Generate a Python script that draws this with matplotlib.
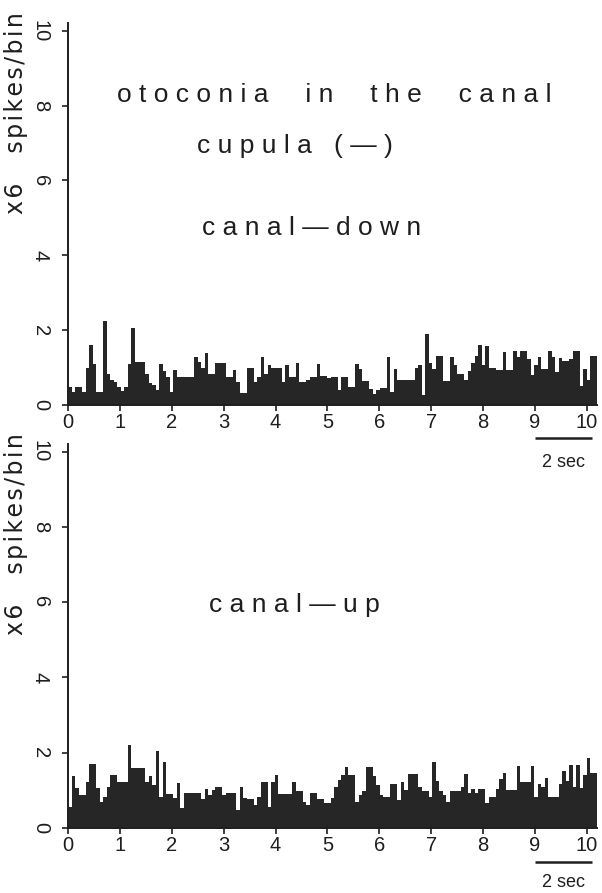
import numpy as np
import matplotlib.pyplot as plt

# spikes per bin (x6), 151 bins over ~10.2 s
bin_width = 10.2 / 151

canal_down = [
    0.49, 0.36, 0.47, 0.47, 0.36, 0.98, 1.6, 1.1, 0.36, 0.36,
    2.25, 0.83, 0.68, 0.62, 0.49, 0.37, 0.47, 1.1, 2.06, 1.14,
    1.14, 1.14, 0.84, 0.58, 0.53, 0.4, 1.1, 0.9, 0.75, 0.36,
    0.93, 0.74, 0.74, 0.74, 0.74, 0.74, 1.29, 1.16, 0.98, 1.4,
    0.84, 0.84, 1.11, 1.11, 1.11, 0.75, 0.75, 0.93, 0.62, 0.33,
    0.33, 0.98, 0.98, 0.62, 0.75, 1.29, 0.83, 1.08, 0.98, 0.98,
    0.98, 0.62, 1.08, 0.75, 0.75, 1.11, 0.62, 0.62, 0.68, 0.75,
    0.75, 1.09, 0.77, 0.77, 0.71, 0.74, 0.74, 0.4, 0.74, 0.74,
    0.47, 0.47, 1.09, 0.95, 0.65, 0.65, 0.42, 0.29, 0.4, 0.45,
    0.45, 1.29, 0.36, 0.95, 0.68, 0.68, 0.68, 0.68, 0.68, 0.98,
    1.07, 0.27, 1.89, 1.11, 0.95, 1.31, 1.31, 0.65, 0.65, 1.29,
    1.07, 0.82, 0.82, 0.67, 0.91, 1.11, 1.31, 1.6, 1.07, 1.57,
    1.0, 1.0, 0.93, 0.93, 1.42, 0.93, 0.93, 1.45, 1.29, 1.45,
    1.45, 1.24, 0.8, 1.08, 1.29, 0.95, 0.95, 1.45, 1.29, 0.89,
    1.26, 1.18, 1.18, 1.22, 1.45, 1.45, 0.51, 0.95, 0.68, 1.31,
    1.31,
]

canal_up = [
    0.57, 1.39, 1.05, 0.88, 0.88, 1.21, 1.7, 1.7, 1.05, 0.7,
    0.82, 1.08, 1.41, 1.41, 1.23, 1.23, 1.23, 2.2, 1.59, 1.59,
    1.59, 1.59, 1.23, 1.39, 1.14, 2.05, 0.83, 1.76, 0.9, 0.9,
    0.79, 1.19, 0.52, 0.94, 0.94, 0.94, 0.94, 0.94, 0.76, 1.03,
    0.88, 1.01, 1.08, 1.08, 0.88, 0.92, 0.92, 0.92, 0.48, 1.1,
    0.79, 0.76, 0.76, 0.61, 0.82, 1.21, 1.21, 0.57, 1.21, 1.41,
    0.9, 0.9, 0.9, 0.9, 1.21, 0.99, 0.99, 0.7, 0.61, 0.94,
    0.94, 0.76, 0.76, 0.67, 0.67, 0.79, 1.1, 1.28, 1.41, 1.63,
    1.41, 1.41, 0.7, 0.88, 0.97, 1.61, 1.61, 1.38, 1.14, 0.88,
    0.83, 0.83, 1.17, 1.17, 0.74, 1.23, 1.01, 1.44, 1.44, 1.44,
    1.08, 0.97, 0.97, 0.83, 1.76, 1.26, 0.97, 0.88, 0.7, 0.97,
    0.97, 0.97, 1.1, 1.44, 0.94, 1.03, 0.94, 1.03, 1.03, 0.67,
    0.82, 0.82, 1.03, 1.29, 1.45, 1.01, 1.01, 1.01, 1.65, 1.21,
    1.21, 1.21, 1.65, 0.82, 1.17, 1.08, 1.32, 0.83, 0.83, 0.83,
    1.17, 1.52, 1.26, 1.68, 1.08, 1.68, 1.05, 1.41, 1.85, 1.47,
    1.47,
]

x_ticks = [0, 1, 2, 3, 4, 5, 6, 7, 8, 9, 10]
y_ticks = [0, 2, 4, 6, 8, 10]

plt.rcParams['font.family'] = ['Liberation Sans', 'DejaVu Sans']
ink = '#1e1e1e'
bar_col = '#262626'

# the original label is set with wide tracking; hair spaces between letters
sp = '\u200a'
y_label = sp.join('x6') + '    ' + sp.join('spikes/bin')

fig = plt.figure(figsize=(6.02, 8.93), dpi=100)
ax1 = fig.add_axes([0.113, 0.5465, 0.879, 0.4275])
ax2 = fig.add_axes([0.113, 0.0728, 0.879, 0.430])


def draw_panel(ax, values, bar_y, label_y):
    ax.set_facecolor('none')
    edges = np.arange(len(values)) * bin_width
    ax.bar(edges, values, width=bin_width, align='edge', color=bar_col, linewidth=0)
    ax.set_xlim(0, 10.2)
    ax.set_ylim(0, 10.2)
    for s in ['top', 'right']:
        ax.spines[s].set_visible(False)
    for s in ['left', 'bottom']:
        ax.spines[s].set_linewidth(1.4)
        ax.spines[s].set_color(ink)
    ax.set_xticks(x_ticks)
    ax.set_yticks(y_ticks)
    ax.tick_params(axis='both', direction='out', length=4, width=1.2, colors=ink,
                   labelsize=14.5)
    ax.tick_params(axis='x', pad=2)
    ax.tick_params(axis='y', pad=9)
    for lab in ax.get_yticklabels():
        lab.set_rotation(-90)
        lab.set_va('center')
    # y label sits high on the axis, as in the original
    pos = ax.get_position()
    fig.text(0.027, pos.y0 + 0.765 * pos.height, y_label, rotation=90,
             ha='center', va='center', fontsize=17, color=ink,
             family=['DejaVu Sans'])
    # 2 sec scale bar
    ax.plot([9.0, 10.1], [bar_y, bar_y], color=ink, lw=1.8, clip_on=False,
            solid_capstyle='butt')
    ax.text(9.55, label_y, '2 sec', ha='center', va='center', fontsize=13, color=ink)


draw_panel(ax1, canal_down, -0.88, -1.55)
draw_panel(ax2, canal_up, -0.90, -1.44)

ax1.text(5.14, 8.27, 'o t o c o n i a     i n     t h e     c a n a l',
         ha='center', va='center', fontsize=19, color=ink)
ax1.text(4.37, 6.93, 'c u p u l a   ( — )', ha='center', va='center',
         fontsize=19, color=ink)
ax1.text(4.7, 4.72, 'c a n a l — d o w n', ha='center', va='center',
         fontsize=19, color=ink)
ax2.text(4.37, 5.93, 'c a n a l — u p', ha='center', va='center',
         fontsize=19, color=ink)

fig.savefig('out.png', dpi=100)
